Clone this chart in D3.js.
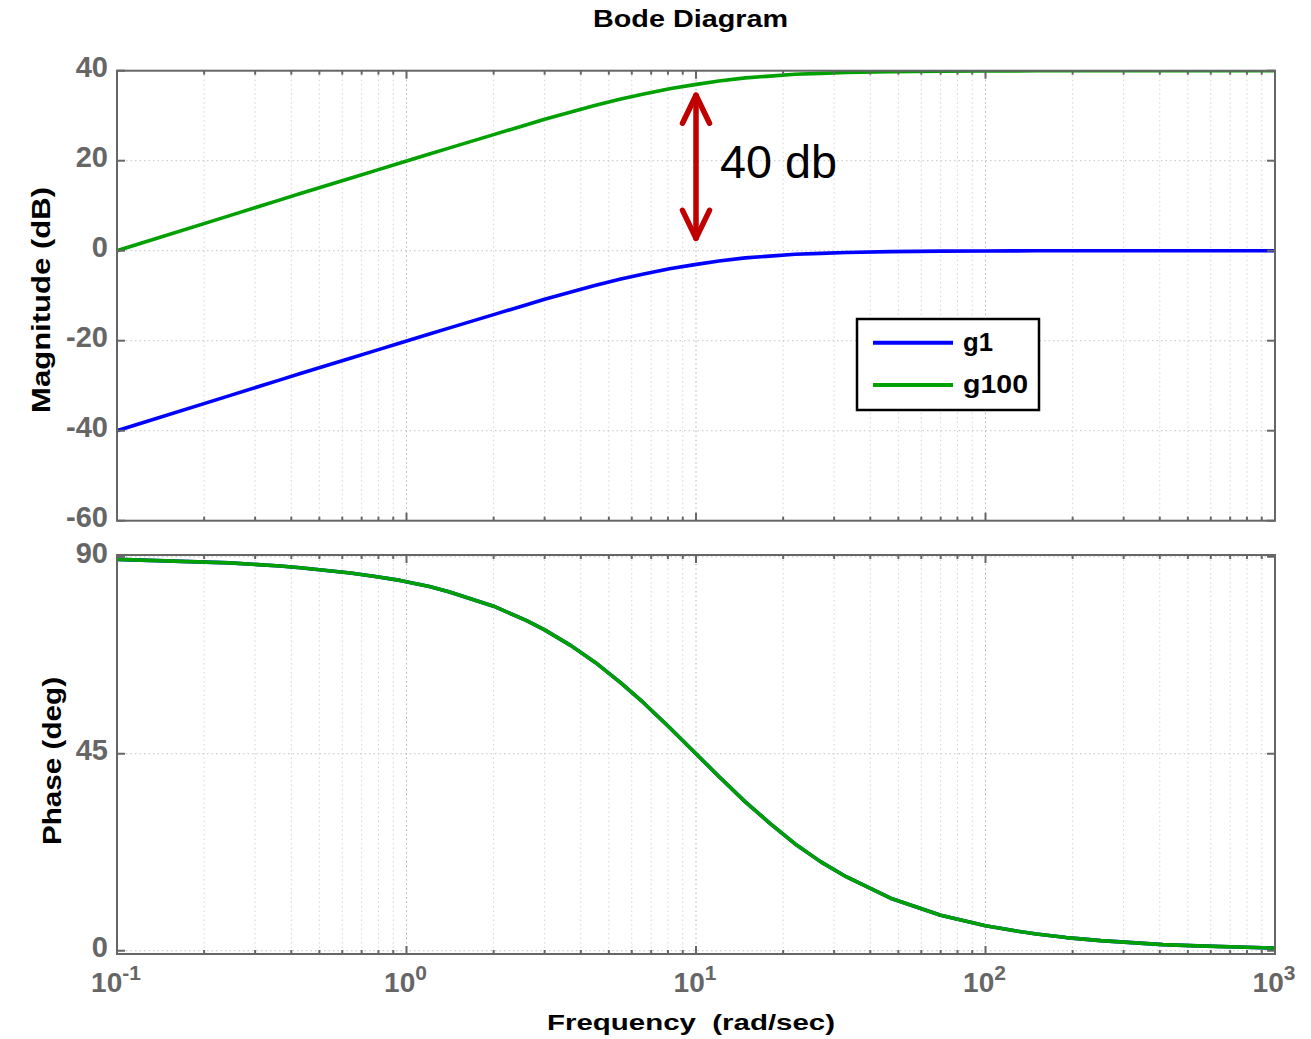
<!DOCTYPE html>
<html>
<head>
<meta charset="utf-8">
<script src="https://cdn.jsdelivr.net/npm/d3@7"></script>
<style>
  body { margin: 0; background: #fff; }
  svg { display: block; font-family: "Liberation Sans", Arial, sans-serif; }
</style>
</head>
<body>
<div id="chart"></div>
<script>
// values
const freq = [0.1, 0.245, 0.366, 0.43, 0.64, 0.78, 0.95, 1.2, 1.4, 2.0, 2.6, 3.0, 3.7, 4.5, 5.5, 6.6, 8.1, 9.9,
  12, 14.8, 18, 22, 27, 33, 47, 70, 100, 125, 150, 190, 250, 410, 540, 1000];
const magG1 = [-40.0, -32.2, -28.7, -27.3, -23.9, -22.2, -20.5, -18.5, -17.2, -14.2, -12.0, -10.8, -9.2, -7.7,
  -6.3, -5.2, -4.0, -3.1, -2.3, -1.6, -1.2, -0.8, -0.6, -0.4, -0.2, -0.1, -0.05, -0.03, -0.02, -0.01, 0, 0, 0, 0];
const magG100 = [0.0, 7.8, 11.3, 12.7, 16.1, 17.8, 19.5, 21.5, 22.8, 25.8, 28.0, 29.2, 30.8, 32.3,
  33.7, 34.8, 36.0, 36.9, 37.7, 38.4, 38.8, 39.2, 39.4, 39.6, 39.8, 39.9, 39.95, 39.97, 39.98, 39.99, 40, 40, 40, 40];
const phaseG1 = [89.4, 88.6, 87.9, 87.5, 86.3, 85.5, 84.6, 83.2, 82.0, 78.7, 75.4, 73.3, 69.7, 65.8,
  61.2, 56.6, 51.0, 45.3, 39.8, 34.0, 29.1, 24.4, 20.3, 16.9, 12.0, 8.1, 5.7, 4.6, 3.8, 3.0, 2.3, 1.4, 1.1, 0.6];
const phaseG100 = [89.4, 88.6, 87.9, 87.5, 86.3, 85.5, 84.6, 83.2, 82.0, 78.7, 75.4, 73.3, 69.7, 65.8,
  61.2, 56.6, 51.0, 45.3, 39.8, 34.0, 29.1, 24.4, 20.3, 16.9, 12.0, 8.1, 5.7, 4.6, 3.8, 3.0, 2.3, 1.4, 1.1, 0.6];
const magTicks = [-60, -40, -20, 0, 20, 40];
const phaseTicks = [0, 45, 90];
const decadeExps = [-1, 0, 1, 2, 3];
const seriesNames = ['g1', 'g100'];
const seriesColors = ['#0000ff', '#00a000'];

const W = 1311, H = 1039;
const axisColor = '#666666';

const svg = d3.select('#chart').append('svg')
  .attr('width', W).attr('height', H);

const x = d3.scaleLog().domain([0.1, 1000]).range([117, 1275]);

// minor + major log positions
const gridFreqs = [];
decadeExps.slice(0, -1).forEach(e => {
  for (let k = 1; k <= 9; k++) gridFreqs.push(k * Math.pow(10, e));
});
gridFreqs.push(1000);
const majorFreqs = decadeExps.map(e => Math.pow(10, e));
const isMajor = f => majorFreqs.some(m => Math.abs(m - f) / m < 1e-9);

function drawPanel(y, yTicks, top, bottom, series) {
  const g = svg.append('g');
  const left = x.range()[0], right = x.range()[1];

  const clipId = 'clip' + Math.round(top);
  svg.append('clipPath').attr('id', clipId)
    .append('rect').attr('x', left).attr('y', top)
    .attr('width', right - left).attr('height', bottom - top);

  // grid
  g.selectAll('.vgrid').data(gridFreqs.filter(f => f > 0.1 && f < 1000)).enter()
    .append('line')
    .attr('x1', d => x(d)).attr('x2', d => x(d))
    .attr('y1', top).attr('y2', bottom)
    .attr('stroke', d => isMajor(d) ? '#b4b4b4' : '#d4d4d4')
    .attr('stroke-width', 1)
    .attr('stroke-dasharray', '1.5,3');
  g.selectAll('.hgrid').data(yTicks).enter()
    .append('line')
    .attr('x1', left).attr('x2', right)
    .attr('y1', d => y(d)).attr('y2', d => y(d))
    .attr('stroke', '#c4c4c4')
    .attr('stroke-width', 1)
    .attr('stroke-dasharray', '1.5,3');

  // curves
  const line = d3.line().x(d => x(d[0])).y(d => y(d[1]));
  series.forEach((s, i) => {
    g.append('path')
      .datum(freq.map((f, j) => [f, s[j]]))
      .attr('clip-path', `url(#${clipId})`)
      .attr('d', line)
      .attr('fill', 'none')
      .attr('stroke', seriesColors[i])
      .attr('stroke-width', 3.6)
      .attr('stroke-linejoin', 'round');
  });

  // box
  g.append('rect')
    .attr('x', left).attr('y', top)
    .attr('width', right - left).attr('height', bottom - top)
    .attr('fill', 'none').attr('stroke', axisColor).attr('stroke-width', 2);

  // x ticks (bottom and top, inward)
  gridFreqs.forEach(f => {
    const len = isMajor(f) ? 8 : 4;
    g.append('line').attr('x1', x(f)).attr('x2', x(f))
      .attr('y1', bottom).attr('y2', bottom - len)
      .attr('stroke', axisColor).attr('stroke-width', 2);
    g.append('line').attr('x1', x(f)).attr('x2', x(f))
      .attr('y1', top).attr('y2', top + len)
      .attr('stroke', axisColor).attr('stroke-width', 2);
  });

  // y ticks left and right, with labels
  yTicks.forEach(t => {
    g.append('line').attr('x1', left).attr('x2', left + 8)
      .attr('y1', y(t)).attr('y2', y(t))
      .attr('stroke', axisColor).attr('stroke-width', 2);
    g.append('line').attr('x1', right).attr('x2', right - 8)
      .attr('y1', y(t)).attr('y2', y(t))
      .attr('stroke', axisColor).attr('stroke-width', 2);
    g.append('text')
      .attr('x', left - 9).attr('y', y(t) + 6)
      .attr('text-anchor', 'end')
      .attr('font-size', 29).attr('font-weight', 'bold')
      .attr('fill', axisColor)
      .text(t);
  });
  return g;
}

// magnitude panel
const yMag = d3.scaleLinear().domain([-60, 40]).range([520.7, 70.7]);
drawPanel(yMag, magTicks, 70.7, 520.7, [magG1, magG100]);

// phase panel
const yPh = d3.scaleLinear().domain([-0.75, 90.4]).range([954, 555]);
drawPanel(yPh, phaseTicks, 555, 954, [phaseG1, phaseG100]);

// x tick labels 10^n
decadeExps.forEach(e => {
  const t = svg.append('text')
    .attr('x', x(Math.pow(10, e)) - 1).attr('y', 992)
    .attr('text-anchor', 'middle')
    .attr('font-weight', 'bold').attr('fill', axisColor);
  t.append('tspan').attr('font-size', 28).text('10');
  t.append('tspan').attr('font-size', 21).attr('dy', -12).text(e);
});

// titles
svg.append('text')
  .attr('x', 690.5).attr('y', 27)
  .attr('text-anchor', 'middle')
  .attr('font-size', 23).attr('font-weight', 'bold')
  .attr('textLength', 195).attr('lengthAdjust', 'spacingAndGlyphs')
  .text('Bode Diagram');

svg.append('text')
  .attr('x', 691).attr('y', 1030)
  .attr('text-anchor', 'middle')
  .attr('font-size', 22).attr('font-weight', 'bold')
  .attr('textLength', 288).attr('lengthAdjust', 'spacingAndGlyphs')
  .style('white-space', 'pre')
  .text('Frequency  (rad/sec)');

svg.append('text')
  .attr('transform', 'translate(50,300) rotate(-90)')
  .attr('text-anchor', 'middle')
  .attr('font-size', 25).attr('font-weight', 'bold')
  .attr('textLength', 226).attr('lengthAdjust', 'spacingAndGlyphs')
  .text('Magnitude (dB)');

svg.append('text')
  .attr('transform', 'translate(61,761) rotate(-90)')
  .attr('text-anchor', 'middle')
  .attr('font-size', 25).attr('font-weight', 'bold')
  .attr('textLength', 168).attr('lengthAdjust', 'spacingAndGlyphs')
  .text('Phase (deg)');

// legend
const legend = svg.append('g');
legend.append('rect')
  .attr('x', 857).attr('y', 319).attr('width', 182).attr('height', 91)
  .attr('fill', '#fff').attr('stroke', '#000').attr('stroke-width', 2.5);
seriesNames.forEach((name, i) => {
  const ly = 342.7 + i * 42.3;
  legend.append('line')
    .attr('x1', 873).attr('x2', 953).attr('y1', ly).attr('y2', ly)
    .attr('stroke', seriesColors[i]).attr('stroke-width', 4);
  legend.append('text')
    .attr('x', 963).attr('y', ly + 8)
    .attr('font-size', 26).attr('font-weight', 'bold')
    .attr('textLength', i === 0 ? 30 : 65).attr('lengthAdjust', 'spacingAndGlyphs')
    .text(name);
});

// 40 dB annotation arrow
const arrowX = x(10);
const annot = svg.append('g')
  .attr('stroke', '#c00000').attr('stroke-width', 5.5)
  .attr('stroke-linecap', 'round').attr('stroke-linejoin', 'round').attr('fill', 'none');
const tipTop = yMag(35), tipBot = yMag(2.3);
annot.append('line').attr('x1', arrowX).attr('x2', arrowX).attr('y1', tipTop + 2).attr('y2', tipBot - 2);
annot.append('path').attr('d', `M${arrowX - 13.5},${tipTop + 30}L${arrowX},${tipTop + 2}L${arrowX + 13.5},${tipTop + 30}`);
annot.append('path').attr('d', `M${arrowX - 13.5},${tipBot - 30}L${arrowX},${tipBot - 2}L${arrowX + 13.5},${tipBot - 30}`);

svg.append('text')
  .attr('x', 720).attr('y', 178)
  .attr('font-size', 47)
  .attr('textLength', 117).attr('lengthAdjust', 'spacingAndGlyphs')
  .text('40 db');
</script>
</body>
</html>
